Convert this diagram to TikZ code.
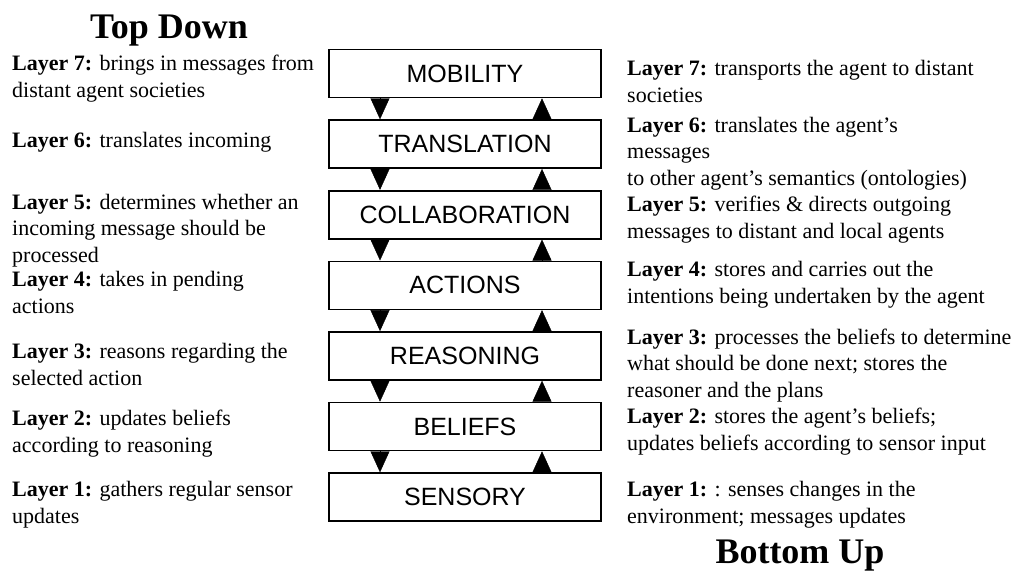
\documentclass[tikz,border=0pt]{standalone}
\usepackage{fontspec}
\setmainfont{Liberation Serif}
\newfontfamily\boxfont{Liberation Sans}
\usetikzlibrary{arrows.meta}
\newcommand{\lay}[1]{\textbf{Layer #1:}}

\begin{document}
\begin{tikzpicture}[x=1pt,y=-1pt,
	layer/.style={draw, line width=1.6pt, minimum width=272pt, minimum height=48pt, inner sep=0pt, font=\boxfont\fontsize{25}{30}\selectfont},
	note/.style={anchor=base west, align=left, inner sep=0pt, font=\fontsize{22}{26.5}\selectfont},
	heading/.style={anchor=base, inner sep=0pt, font=\bfseries\fontsize{36}{40}\selectfont},
	tri/.style={-{Triangle[width=19pt,length=21pt]}, thin}]
			\useasboundingbox (0,0) rectangle (1023,571);
			% the seven layers
			\node[layer] (mob) at (465,73.5) {MOBILITY};
			\node[layer] (tra) at (465,144.1) {TRANSLATION};
			\node[layer] (col) at (465,214.7) {COLLABORATION};
			\node[layer] (act) at (465,285.3) {ACTIONS};
			\node[layer] (rea) at (465,355.9) {REASONING};
			\node[layer] (bel) at (465,426.5) {BELIEFS};
			\node[layer] (sen) at (465,497.1) {SENSORY};
			% down and up
			\draw[tri] ([xshift=-85pt]mob.south) -- ([xshift=-85pt]tra.north);
			\draw[tri] ([xshift=-85pt]tra.south) -- ([xshift=-85pt]col.north);
			\draw[tri] ([xshift=-85pt]col.south) -- ([xshift=-85pt]act.north);
			\draw[tri] ([xshift=-85pt]act.south) -- ([xshift=-85pt]rea.north);
			\draw[tri] ([xshift=-85pt]rea.south) -- ([xshift=-85pt]bel.north);
			\draw[tri] ([xshift=-85pt]bel.south) -- ([xshift=-85pt]sen.north);
			\draw[tri] ([xshift=77pt]sen.north) -- ([xshift=77pt]bel.south);
			\draw[tri] ([xshift=77pt]bel.north) -- ([xshift=77pt]rea.south);
			\draw[tri] ([xshift=77pt]rea.north) -- ([xshift=77pt]act.south);
			\draw[tri] ([xshift=77pt]act.north) -- ([xshift=77pt]col.south);
			\draw[tri] ([xshift=77pt]col.north) -- ([xshift=77pt]tra.south);
			\draw[tri] ([xshift=77pt]tra.north) -- ([xshift=77pt]mob.south);
			% headings
			\node[heading] (top) at (169,38) {Top Down};
			\node[heading] (bot) at (800,563) {Bottom Up};
			% left side (y is the baseline of the last line)
			\node[note] (l7) at (12,97) {\lay{7} brings in messages from\\distant agent societies};
			\node[note] (l6) at (12,147) {\lay{6} translates incoming};
			\node[note] (l5) at (12,262) {\lay{5} determines whether an\\incoming message should be\\processed};
			\node[note] (l4) at (12,313) {\lay{4} takes in pending\\actions};
			\node[note] (l3) at (12,385) {\lay{3} reasons regarding the\\selected action};
			\node[note] (l2) at (12,452) {\lay{2} updates beliefs\\according to reasoning};
			\node[note] (l1) at (12,523) {\lay{1} gathers regular sensor\\updates};
			% right side
			\node[note] (r7) at (627,102) {\lay{7} transports the agent to distant\\societies};
			\node[note] (r6) at (627,185) {\lay{6} translates the agent’s\\messages\\to other agent’s semantics (ontologies)};
			\node[note] (r5) at (627,238) {\lay{5} verifies \& directs outgoing\\messages to distant and local agents};
			\node[note] (r4) at (627,303) {\lay{4} stores and carries out the\\intentions being undertaken by the agent};
			\node[note] (r3) at (627,397) {\lay{3} processes the beliefs to determine\\what should be done next; stores the\\reasoner and the plans};
			\node[note] (r2) at (627,450) {\lay{2} stores the agent’s beliefs;\\updates beliefs according to sensor input};
			\node[note] (r1) at (627,523) {\lay{1} : senses changes in the\\environment; messages updates};
		\end{tikzpicture}
\end{document}
